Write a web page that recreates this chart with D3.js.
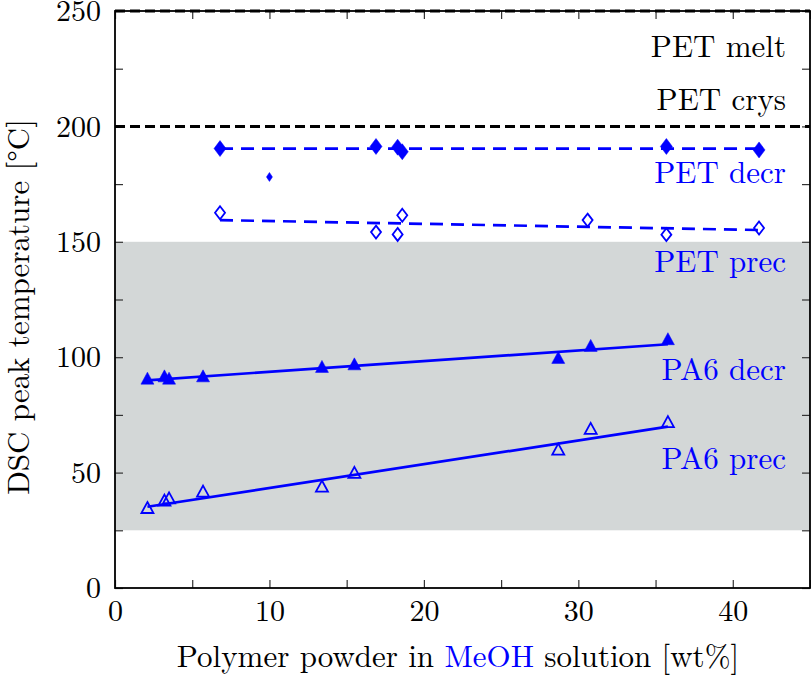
<!DOCTYPE html>
<html>
<head>
<meta charset="utf-8">
<script src="https://cdn.jsdelivr.net/npm/d3@7"></script>
</head>
<body style="margin:0; background:#fff">
<svg id="chart" width="811" height="676"></svg>
<script>
// polymer loading (wt%) and DSC peak temperatures
var petX      = [6.8, 16.9, 18.3, 18.6, 35.7, 41.7];
var petDecr   = [190.4, 191.3, 191.0, 189.0, 191.3, 189.8];
var petOddX   = [10.0];
var petOdd    = [178.1];
var petPrecX  = [6.8, 16.9, 18.3, 18.6, 30.6, 35.7, 41.7];
var petPrec   = [162.6, 154.2, 153.2, 161.5, 159.4, 153.1, 156.0];

var pa6X      = [2.1, 3.2, 3.5, 5.7, 13.4, 15.5, 28.7, 30.8, 35.8];
var pa6Decr   = [90.4, 91.4, 90.4, 91.4, 95.5, 96.6, 99.4, 104.6, 107.5];
var pa6Prec   = [34.4, 37.6, 38.6, 41.5, 43.7, 49.6, 59.7, 68.7, 71.6];

// linear fits (end points as drawn)
var petDecrFit = [[6.8, 190.4], [41.7, 190.4]];
var petPrecFit = [[6.8, 159.4], [41.7, 155.1]];
var pa6DecrFit = [[2.1, 90.0], [35.8, 105.6]];
var pa6PrecFit = [[2.1, 35.2], [35.8, 69.9]];

var shadeRange = [25, 150];
var refLines   = [250, 200];

var labelText = ["PET melt", "PET crys", "PET decr", "PET prec", "PA6 decr", "PA6 prec"];
var labelY    = [230, 207, 175.3, 136.7, 90, 51.4];
var labelBlue = [false, false, true, true, true, true];

var xTicks = d3.range(0, 46, 5);
var yTicks = d3.range(0, 251, 25);

var FONT = "'Latin Modern Roman', 'Liberation Serif', serif";
var svg = d3.select("#chart");
var blue = "#0000ff";

var x = d3.scaleLinear().domain([0, 45]).range([115, 810]);
var y = d3.scaleLinear().domain([0, 250]).range([588, 11]);

// grey band
svg.append("rect")
  .attr("x", x(0))
  .attr("y", y(shadeRange[1]))
  .attr("width", x(45) - x(0))
  .attr("height", y(shadeRange[0]) - y(shadeRange[1]))
  .attr("fill", "#d3d7d7");

// axes with inward ticks on all sides
var fmtX = d => d % 10 === 0 ? d : "";
var fmtY = d => d % 50 === 0 ? d : "";

var gb = svg.append("g").attr("transform", "translate(0," + y(0) + ")")
  .call(d3.axisBottom(x).tickValues(xTicks).tickSize(-8).tickPadding(12).tickFormat(fmtX));
var gt = svg.append("g").attr("transform", "translate(0," + y(250) + ")")
  .call(d3.axisTop(x).tickValues(xTicks).tickSize(-8).tickFormat(""));
var gl = svg.append("g").attr("transform", "translate(" + x(0) + ",0)")
  .call(d3.axisLeft(y).tickValues(yTicks).tickSize(-8).tickPadding(14).tickFormat(fmtY));
var gr = svg.append("g").attr("transform", "translate(" + x(45) + ",0)")
  .call(d3.axisRight(y).tickValues(yTicks).tickSize(-8).tickFormat(""));

[gb, gt, gl, gr].forEach(g => {
  g.select(".domain").remove();
  g.selectAll(".tick line").attr("stroke", "#333").attr("stroke-width", 1.2);
  g.selectAll("text")
    .style("font-family", FONT)
    .style("font-size", "30px")
    .attr("fill", "#000");
});

// frame
svg.append("rect")
  .attr("x", x(0)).attr("y", y(250))
  .attr("width", x(45) - x(0)).attr("height", y(0) - y(250))
  .attr("fill", "none").attr("stroke", "#000").attr("stroke-width", 1.8);

// PET melt / crys reference lines
svg.selectAll(".ref").data(refLines).enter().append("line")
  .attr("x1", x(0)).attr("x2", x(45))
  .attr("y1", d => y(d)).attr("y2", d => y(d))
  .attr("stroke", "#000").attr("stroke-width", 3)
  .attr("stroke-dasharray", "10,5");

// fit lines
var line = d3.line().x(d => x(d[0])).y(d => y(d[1]));
[[petDecrFit, "13,8"], [petPrecFit, "13,8"], [pa6DecrFit, null], [pa6PrecFit, null]].forEach(f => {
  svg.append("path").datum(f[0])
    .attr("d", line)
    .attr("fill", "none").attr("stroke", blue).attr("stroke-width", 2.7)
    .attr("stroke-dasharray", f[1]);
});

// markers
function diamond(w, h) {
  return "M0," + (-h / 2) + "L" + (w / 2) + ",0L0," + (h / 2) + "L" + (-w / 2) + ",0Z";
}
function triangle(w, h) {
  return "M0," + (-h * 0.6) + "L" + (w / 2) + "," + (h * 0.4) + "L" + (-w / 2) + "," + (h * 0.4) + "Z";
}
function markers(xs, ys, path, filled) {
  svg.append("g").selectAll("path")
    .data(xs.map((d, i) => [d, ys[i]]))
    .enter().append("path")
    .attr("transform", d => "translate(" + x(d[0]) + "," + y(d[1]) + ")")
    .attr("d", path)
    .attr("fill", filled ? blue : "none")
    .attr("stroke", blue)
    .attr("stroke-width", filled ? 0.5 : 1.8)
    .attr("stroke-linejoin", "miter");
}
markers(petX, petDecr, diamond(12, 16), true);
markers(petOddX, petOdd, diamond(6, 9), true);
markers(petPrecX, petPrec, diamond(10, 13), false);
markers(pa6X, pa6Decr, triangle(13, 12), true);
markers(pa6X, pa6Prec, triangle(12, 11), false);

// annotations
svg.selectAll(".lbl").data(labelText).enter().append("text")
  .attr("x", 786)
  .attr("y", (d, i) => y(labelY[i]))
  .attr("text-anchor", "end")
  .style("font-family", FONT)
  .style("font-size", "31px")
  .attr("fill", (d, i) => labelBlue[i] ? blue : "#000")
  .text(d => d);

// axis titles
var xt = svg.append("text")
  .attr("x", 458).attr("y", 667)
  .attr("text-anchor", "middle")
  .style("font-family", FONT)
  .style("font-size", "31px");
xt.append("tspan").text("Polymer powder in ");
xt.append("tspan").attr("fill", blue).text("MeOH");
xt.append("tspan").text(" solution [wt%]");

svg.append("text")
  .attr("transform", "translate(29,307) rotate(-90)")
  .attr("text-anchor", "middle")
  .style("font-family", FONT)
  .style("font-size", "31px")
  .text("DSC peak temperature [\u00B0C]");
</script>
</body>
</html>
